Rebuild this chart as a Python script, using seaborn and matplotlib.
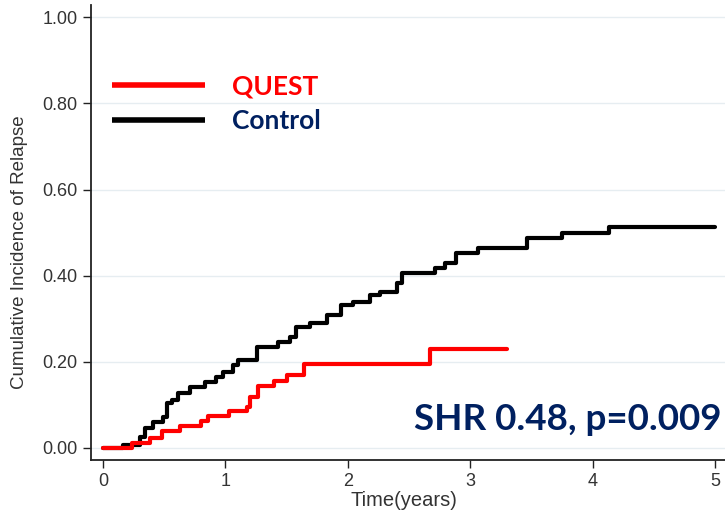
import pandas as pd
import matplotlib
matplotlib.use("Agg")
import matplotlib.pyplot as plt
from matplotlib.lines import Line2D
import seaborn as sns

# step times (years) and cumulative incidence
quest_t = [0.00, 0.24, 0.38, 0.48, 0.63, 0.80, 0.86, 1.03, 1.18, 1.20, 1.27,
           1.40, 1.50, 1.64, 2.67, 3.30]
quest_y = [0.000, 0.012, 0.022, 0.040, 0.052, 0.063, 0.075, 0.086, 0.095,
           0.118, 0.143, 0.155, 0.170, 0.195, 0.229, 0.229]

control_t = [0.00, 0.16, 0.30, 0.34, 0.41, 0.49, 0.52, 0.56, 0.61, 0.71, 0.83,
             0.92, 0.98, 1.06, 1.10, 1.26, 1.43, 1.53, 1.58, 1.69, 1.83, 1.94,
             2.04, 2.18, 2.26, 2.40, 2.44, 2.71, 2.79, 2.88, 3.06, 3.46, 3.75,
             4.13, 5.00]
control_y = [0.000, 0.007, 0.026, 0.046, 0.060, 0.072, 0.104, 0.111, 0.128,
             0.142, 0.153, 0.165, 0.176, 0.193, 0.204, 0.234, 0.246, 0.258,
             0.281, 0.290, 0.309, 0.332, 0.339, 0.355, 0.362, 0.383, 0.406,
             0.418, 0.429, 0.452, 0.464, 0.487, 0.499, 0.513, 0.513]

groups = ["QUEST", "Control"]
colors = {"QUEST": "#ff0000", "Control": "#000000"}
label_colors = ["#ff0000", "#002060"]
x_ticks = [0, 1, 2, 3, 4, 5]
y_ticks = [0.0, 0.2, 0.4, 0.6, 0.8, 1.0]
stat_text = "SHR 0.48, p=0.009"

df = pd.concat([
    pd.DataFrame({"t": quest_t, "ci": quest_y, "arm": "QUEST"}),
    pd.DataFrame({"t": control_t, "ci": control_y, "arm": "Control"}),
])

sns.set_style("white")
plt.rcParams["font.family"] = ["Liberation Sans", "DejaVu Sans"]

fig = plt.figure(figsize=(7.25, 5.18), dpi=100)
ax = fig.add_axes([0.1255, 0.112, 0.8745, 0.878])

for arm in ["Control", "QUEST"]:
    sns.lineplot(data=df[df["arm"] == arm], x="t", y="ci", color=colors[arm],
                 drawstyle="steps-post", lw=3, estimator=None, sort=False, ax=ax)

ax.set_xlim(-0.098, 5.08)
ax.set_ylim(-0.028, 1.028)
ax.set_xticks(x_ticks)
ax.set_yticks(y_ticks)
ax.set_yticklabels([f"{v:.2f}" for v in y_ticks])
ax.grid(axis="y", color="#e6edf1", lw=1)
ax.set_axisbelow(True)
for s in ["top", "right"]:
    ax.spines[s].set_visible(False)
for s in ["left", "bottom"]:
    ax.spines[s].set_color("#222222")
    ax.spines[s].set_linewidth(1.3)
ax.tick_params(axis="both", direction="out", length=6, width=1, color="#222222",
               labelsize=13, labelcolor="#333333", left=True, bottom=True)
ax.set_xlabel("Time(years)", fontsize=14.5, color="#333333")
ax.set_ylabel("Cumulative Incidence of Relapse", fontsize=13.5, color="#333333")
ax.xaxis.set_label_coords(0.493, -0.068)
ax.yaxis.set_label_coords(-0.099, 0.457)

handles = [Line2D([0], [0], color=colors[g], lw=4, solid_capstyle="butt") for g in groups]
leg = ax.legend(handles, groups, loc="upper left", bbox_to_anchor=(-0.004, 0.9),
                frameon=False, handlelength=3.5, handletextpad=1.05, labelspacing=0.4,
                prop={"family": "Lato", "weight": "bold", "size": 19},
                labelcolor=label_colors)

ax.text(0.995, 0.066, stat_text, transform=ax.transAxes, ha="right", va="baseline",
        fontsize=26.5, fontweight="bold", family="Lato", color="#002060")

fig.savefig("out.png", dpi=100)
